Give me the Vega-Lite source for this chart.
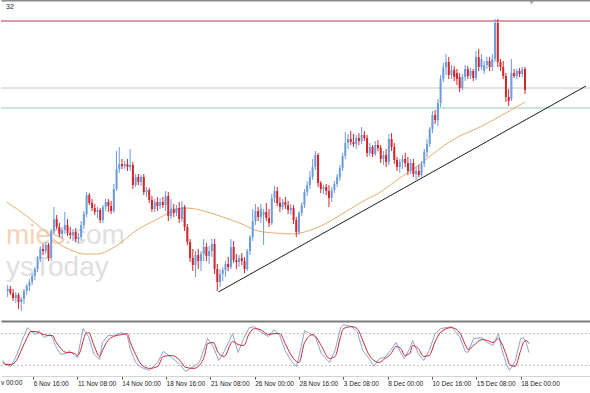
{
  "$schema": "https://vega.github.io/schema/vega-lite/v6.json",
  "background": "white",
  "padding": 0,
  "spacing": 2,
  "bounds": "flush",
  "config": {"view": {"stroke": null}, "axis": {"grid": false}},
  "datasets": {
    "candles": [
      {"i":0,"o":108,"h":114,"l":102,"c":110},{"i":1,"o":110,"h":113,"l":104,"c":106},{"i":2,"o":106,"h":110,"l":98,"c":101},{"i":3,"o":101,"h":107,"l":96,"c":104},{"i":4,"o":104,"h":106,"l":90,"c":97},
      {"i":5,"o":97,"h":102,"l":88,"c":100},{"i":6,"o":100,"h":110,"l":95,"c":108},{"i":7,"o":108,"h":115,"l":104,"c":113},{"i":8,"o":113,"h":120,"l":108,"c":117},{"i":9,"o":117,"h":126,"l":114,"c":123},
      {"i":10,"o":123,"h":132,"l":119,"c":130},{"i":11,"o":130,"h":143,"l":127,"c":140},{"i":12,"o":140,"h":153,"l":137,"c":150},{"i":13,"o":150,"h":155,"l":144,"c":148},{"i":14,"o":148,"h":157,"l":145,"c":154},
      {"i":15,"o":154,"h":156,"l":138,"c":141},{"i":16,"o":141,"h":170,"l":138,"c":168},{"i":17,"o":168,"h":192,"l":165,"c":180},{"i":18,"o":180,"h":184,"l":170,"c":172},{"i":19,"o":172,"h":176,"l":162,"c":165},
      {"i":20,"o":165,"h":172,"l":160,"c":169},{"i":21,"o":169,"h":187,"l":165,"c":174},{"i":22,"o":174,"h":180,"l":163,"c":166},{"i":23,"o":166,"h":172,"l":160,"c":164},{"i":24,"o":164,"h":170,"l":158,"c":167},
      {"i":25,"o":167,"h":171,"l":157,"c":160},{"i":26,"o":160,"h":166,"l":156,"c":162},{"i":27,"o":162,"h":178,"l":158,"c":174},{"i":28,"o":174,"h":188,"l":170,"c":185},{"i":29,"o":185,"h":207,"l":182,"c":204},
      {"i":30,"o":204,"h":206,"l":194,"c":196},{"i":31,"o":196,"h":200,"l":188,"c":191},{"i":32,"o":191,"h":195,"l":184,"c":187},{"i":33,"o":187,"h":192,"l":181,"c":189},{"i":34,"o":189,"h":191,"l":176,"c":179},
      {"i":35,"o":179,"h":194,"l":176,"c":192},{"i":36,"o":192,"h":200,"l":188,"c":197},{"i":37,"o":197,"h":200,"l":187,"c":193},{"i":38,"o":193,"h":198,"l":185,"c":188},{"i":39,"o":188,"h":215,"l":186,"c":210},
      {"i":40,"o":210,"h":248,"l":208,"c":230},{"i":41,"o":230,"h":252,"l":226,"c":235},{"i":42,"o":235,"h":240,"l":230,"c":233},{"i":43,"o":233,"h":238,"l":230,"c":235},{"i":44,"o":235,"h":240,"l":228,"c":232},
      {"i":45,"o":232,"h":250,"l":228,"c":234},{"i":46,"o":234,"h":237,"l":210,"c":214},{"i":47,"o":214,"h":225,"l":212,"c":222},{"i":48,"o":222,"h":225,"l":214,"c":217},{"i":49,"o":217,"h":224,"l":213,"c":222},
      {"i":50,"o":222,"h":225,"l":204,"c":207},{"i":51,"o":207,"h":212,"l":202,"c":209},{"i":52,"o":209,"h":211,"l":196,"c":199},{"i":53,"o":199,"h":203,"l":187,"c":190},{"i":54,"o":190,"h":200,"l":187,"c":197},
      {"i":55,"o":197,"h":202,"l":188,"c":193},{"i":56,"o":193,"h":201,"l":190,"c":197},{"i":57,"o":197,"h":202,"l":191,"c":194},{"i":58,"o":194,"h":208,"l":188,"c":203},{"i":59,"o":203,"h":207,"l":178,"c":183},
      {"i":60,"o":183,"h":200,"l":180,"c":190},{"i":61,"o":190,"h":195,"l":182,"c":186},{"i":62,"o":186,"h":194,"l":183,"c":191},{"i":63,"o":191,"h":197,"l":176,"c":180},{"i":64,"o":180,"h":198,"l":177,"c":192},
      {"i":65,"o":192,"h":194,"l":168,"c":172},{"i":66,"o":172,"h":175,"l":154,"c":157},{"i":67,"o":157,"h":160,"l":137,"c":141},{"i":68,"o":141,"h":150,"l":128,"c":134},{"i":69,"o":134,"h":148,"l":122,"c":144},
      {"i":70,"o":144,"h":150,"l":130,"c":138},{"i":71,"o":138,"h":148,"l":128,"c":145},{"i":72,"o":145,"h":160,"l":138,"c":152},{"i":73,"o":152,"h":156,"l":138,"c":143},{"i":74,"o":143,"h":153,"l":135,"c":148},
      {"i":75,"o":148,"h":160,"l":142,"c":155},{"i":76,"o":155,"h":160,"l":125,"c":130},{"i":77,"o":130,"h":135,"l":108,"c":117},{"i":78,"o":117,"h":130,"l":112,"c":125},{"i":79,"o":125,"h":132,"l":118,"c":129},
      {"i":80,"o":129,"h":138,"l":122,"c":135},{"i":81,"o":135,"h":142,"l":128,"c":132},{"i":82,"o":132,"h":160,"l":130,"c":152},{"i":83,"o":152,"h":158,"l":136,"c":139},{"i":84,"o":139,"h":145,"l":130,"c":137},
      {"i":85,"o":137,"h":144,"l":132,"c":141},{"i":86,"o":141,"h":146,"l":134,"c":138},{"i":87,"o":138,"h":142,"l":126,"c":130},{"i":88,"o":130,"h":150,"l":128,"c":148},{"i":89,"o":148,"h":164,"l":144,"c":162},
      {"i":90,"o":162,"h":190,"l":158,"c":178},{"i":91,"o":178,"h":195,"l":174,"c":188},{"i":92,"o":188,"h":192,"l":178,"c":182},{"i":93,"o":182,"h":195,"l":176,"c":190},{"i":94,"o":184,"h":190,"l":154,"c":187},
      {"i":95,"o":187,"h":196,"l":178,"c":181},{"i":96,"o":181,"h":190,"l":172,"c":176},{"i":97,"o":176,"h":205,"l":174,"c":201},{"i":98,"o":201,"h":213,"l":196,"c":208},{"i":99,"o":208,"h":212,"l":193,"c":196},
      {"i":100,"o":196,"h":202,"l":187,"c":192},{"i":101,"o":192,"h":200,"l":189,"c":197},{"i":102,"o":197,"h":202,"l":190,"c":194},{"i":103,"o":194,"h":198,"l":185,"c":189},{"i":104,"o":189,"h":195,"l":184,"c":191},
      {"i":105,"o":191,"h":194,"l":175,"c":179},{"i":106,"o":179,"h":182,"l":162,"c":167},{"i":107,"o":167,"h":188,"l":164,"c":186},{"i":108,"o":186,"h":197,"l":183,"c":194},{"i":109,"o":194,"h":210,"l":191,"c":207},
      {"i":110,"o":207,"h":218,"l":203,"c":214},{"i":111,"o":214,"h":228,"l":210,"c":222},{"i":112,"o":222,"h":240,"l":219,"c":232},{"i":113,"o":232,"h":248,"l":229,"c":244},{"i":114,"o":244,"h":246,"l":212,"c":216},
      {"i":115,"o":216,"h":218,"l":206,"c":210},{"i":116,"o":210,"h":214,"l":205,"c":212},{"i":117,"o":212,"h":215,"l":204,"c":208},{"i":118,"o":208,"h":214,"l":192,"c":201},{"i":119,"o":201,"h":212,"l":197,"c":209},
      {"i":120,"o":209,"h":218,"l":206,"c":215},{"i":121,"o":215,"h":225,"l":212,"c":222},{"i":122,"o":222,"h":234,"l":218,"c":231},{"i":123,"o":231,"h":246,"l":228,"c":243},{"i":124,"o":243,"h":267,"l":240,"c":256},
      {"i":125,"o":256,"h":265,"l":250,"c":260},{"i":126,"o":260,"h":268,"l":254,"c":257},{"i":127,"o":257,"h":265,"l":252,"c":255},{"i":128,"o":255,"h":264,"l":250,"c":261},{"i":129,"o":261,"h":266,"l":254,"c":258},
      {"i":130,"o":258,"h":272,"l":255,"c":264},{"i":131,"o":264,"h":268,"l":258,"c":261},{"i":132,"o":261,"h":264,"l":242,"c":246},{"i":133,"o":246,"h":256,"l":243,"c":252},{"i":134,"o":252,"h":254,"l":242,"c":245},
      {"i":135,"o":245,"h":258,"l":243,"c":254},{"i":136,"o":254,"h":259,"l":248,"c":251},{"i":137,"o":251,"h":254,"l":236,"c":240},{"i":138,"o":240,"h":248,"l":234,"c":244},{"i":139,"o":244,"h":250,"l":232,"c":237},
      {"i":140,"o":237,"h":265,"l":234,"c":260},{"i":141,"o":260,"h":266,"l":248,"c":252},{"i":142,"o":252,"h":256,"l":235,"c":239},{"i":143,"o":239,"h":242,"l":228,"c":232},{"i":144,"o":232,"h":240,"l":226,"c":237},
      {"i":145,"o":237,"h":244,"l":230,"c":240},{"i":146,"o":240,"h":246,"l":232,"c":236},{"i":147,"o":236,"h":242,"l":224,"c":228},{"i":148,"o":228,"h":240,"l":225,"c":236},{"i":149,"o":236,"h":240,"l":222,"c":225},
      {"i":150,"o":225,"h":232,"l":218,"c":228},{"i":151,"o":228,"h":234,"l":222,"c":224},{"i":152,"o":224,"h":238,"l":222,"c":235},{"i":153,"o":235,"h":250,"l":232,"c":247},{"i":154,"o":247,"h":260,"l":242,"c":255},
      {"i":155,"o":255,"h":272,"l":252,"c":270},{"i":156,"o":270,"h":288,"l":266,"c":284},{"i":157,"o":284,"h":289,"l":275,"c":279},{"i":158,"o":279,"h":300,"l":273,"c":296},{"i":159,"o":296,"h":324,"l":292,"c":320},
      {"i":160,"o":320,"h":336,"l":317,"c":332},{"i":161,"o":332,"h":345,"l":324,"c":337},{"i":162,"o":337,"h":342,"l":320,"c":324},{"i":163,"o":324,"h":334,"l":320,"c":329},{"i":164,"o":329,"h":333,"l":318,"c":322},
      {"i":165,"o":326,"h":330,"l":314,"c":320},{"i":166,"o":322,"h":326,"l":307,"c":311},{"i":167,"o":311,"h":325,"l":309,"c":322},{"i":168,"o":322,"h":334,"l":318,"c":330},{"i":169,"o":330,"h":333,"l":320,"c":323},
      {"i":170,"o":323,"h":331,"l":320,"c":328},{"i":171,"o":328,"h":330,"l":318,"c":321},{"i":172,"o":321,"h":348,"l":319,"c":342},{"i":173,"o":342,"h":350,"l":328,"c":332},{"i":174,"o":332,"h":345,"l":329,"c":340},
      {"i":175,"o":328,"h":338,"l":325,"c":334},{"i":176,"o":334,"h":342,"l":330,"c":338},{"i":177,"o":338,"h":342,"l":328,"c":332},{"i":178,"o":332,"h":345,"l":328,"c":340},{"i":179,"o":340,"h":380,"l":337,"c":376},
      {"i":180,"o":376,"h":380,"l":332,"c":337},{"i":181,"o":337,"h":340,"l":328,"c":332},{"i":182,"o":332,"h":338,"l":320,"c":323},{"i":183,"o":323,"h":326,"l":297,"c":302},{"i":184,"o":302,"h":310,"l":293,"c":298},
      {"i":185,"o":300,"h":340,"l":298,"c":326},{"i":186,"o":326,"h":330,"l":321,"c":323},{"i":187,"o":323,"h":330,"l":320,"c":328},{"i":188,"o":328,"h":331,"l":322,"c":325},{"i":189,"o":325,"h":332,"l":322,"c":330},
      {"i":190,"o":330,"h":332,"l":305,"c":309}
    ],
    "ma": [
      {"i":-0.4,"p":197},{"i":7,"p":183},{"i":14,"p":167},{"i":19,"p":155},{"i":24,"p":148},{"i":28,"p":145},{"i":33,"p":145},{"i":38,"p":150},{"i":42,"p":157},{"i":45,"p":164},
      {"i":50,"p":173},{"i":55,"p":180},{"i":60,"p":187},{"i":65,"p":191},{"i":69,"p":190},{"i":72,"p":188},{"i":79,"p":182},{"i":86,"p":175},{"i":92,"p":168},{"i":98,"p":166},
      {"i":104,"p":165},{"i":109,"p":167},{"i":115,"p":173},{"i":121,"p":182},{"i":127,"p":192},{"i":132,"p":200},{"i":137,"p":207},{"i":141,"p":215},{"i":144,"p":221},{"i":151,"p":234},
      {"i":158,"p":249},{"i":166,"p":263},{"i":172,"p":270},{"i":181,"p":283},{"i":190,"p":297}
    ],
    "trend": [{"i":77.4,"p":107},{"i":212.4,"p":313}],
    "levels": [{"level":378,"kind":"r"},{"level":311,"kind":"g"},{"level":291,"kind":"t"}],
    "notes": [
      {"i":-0.6,"p":155,"t":"mies","kind":"worange"},
      {"i":20.74,"p":155,"t":".com","kind":"wgray"},
      {"i":-0.6,"p":123,"t":"ysToday","kind":"wgray"}
    ],
    "corner": [{"i":-0.6,"p":392,"t":"32"}],
    "marker": [{"i":192.4,"p":396.5}],
    "stoch": [
      {"i":0,"k":29.4,"d":25.6},{"i":1,"k":21.9,"d":21.9},{"i":3,"k":18.1,"d":21.9},{"i":5,"k":38.8,"d":29.4},{"i":7,"k":66.9,"d":51.9},{"i":9,"k":91.3,"d":74.4},
      {"i":10,"k":85.6,"d":83.8},{"i":12,"k":78.1,"d":83.8},{"i":13,"k":85.6,"d":81.9},{"i":15,"k":72.5,"d":78.1},{"i":17,"k":78.1,"d":76.3},{"i":18,"k":72.5,"d":76.3},
      {"i":19,"k":57.5,"d":66.9},{"i":21,"k":40.6,"d":51.9},{"i":23,"k":42.5,"d":44.4},{"i":24,"k":48.1,"d":44.4},{"i":26,"k":38.8,"d":42.5},{"i":27,"k":35,"d":38.8},
      {"i":28,"k":61.3,"d":46.3},{"i":29,"k":89.4,"d":65},{"i":30,"k":81.9,"d":80},{"i":31,"k":74.4,"d":81.9},{"i":33,"k":40.6,"d":57.5},{"i":35,"k":31.3,"d":36.9},
      {"i":36,"k":63.1,"d":48.1},{"i":38,"k":76.3,"d":66.9},{"i":40,"k":76.3,"d":74.4},{"i":43,"k":81.9,"d":78.1},{"i":45,"k":76.3,"d":80},{"i":46,"k":51.9,"d":65},
      {"i":48,"k":25.6,"d":40.6},{"i":50,"k":16.3,"d":21.9},{"i":53,"k":10.6,"d":14.4},{"i":56,"k":25.6,"d":18.1},{"i":58,"k":46.3,"d":36.9},{"i":61,"k":35,"d":38.8},
      {"i":64,"k":21.9,"d":29.4},{"i":66,"k":8.8,"d":16.3},{"i":69,"k":18.1,"d":14.4},{"i":71,"k":25.6,"d":20},{"i":73,"k":55.6,"d":40.6},{"i":74,"k":70.6,"d":61.3},
      {"i":76,"k":55.6,"d":63.1},{"i":78,"k":29.4,"d":42.5},{"i":80,"k":46.3,"d":36.9},{"i":83,"k":80,"d":65},{"i":85,"k":44.4,"d":59.4},{"i":87,"k":70.6,"d":57.5},
      {"i":89,"k":91.3,"d":80},{"i":91,"k":93.1,"d":89.4},{"i":93,"k":83.8,"d":87.5},{"i":96,"k":74.4,"d":78.1},{"i":98,"k":87.5,"d":80},{"i":100,"k":76.3,"d":80},
      {"i":102,"k":48.1,"d":61.3},{"i":104,"k":29.4,"d":40.6},{"i":106,"k":18.1,"d":27.5},{"i":107,"k":36.9,"d":25.6},{"i":109,"k":85.6,"d":63.1},{"i":112,"k":76.3,"d":78.1},
      {"i":113,"k":72.5,"d":74.4},{"i":115,"k":42.5,"d":57.5},{"i":118,"k":25.6,"d":33.1},{"i":120,"k":48.1,"d":36.9},{"i":122,"k":91.3,"d":74.4},{"i":123,"k":96.9,"d":89.4},
      {"i":126,"k":93.1,"d":93.1},{"i":128,"k":83.8,"d":89.4},{"i":130,"k":48.1,"d":66.9},{"i":132,"k":35,"d":42.5},{"i":134,"k":18.1,"d":29.4},{"i":136,"k":33.1,"d":25.6},
      {"i":138,"k":35,"d":33.1},{"i":140,"k":48.1,"d":40.6},{"i":142,"k":63.1,"d":55.6},{"i":144,"k":40.6,"d":50},{"i":145,"k":33.1,"d":38.8},{"i":147,"k":51.9,"d":42.5},
      {"i":148,"k":66.9,"d":57.5},{"i":150,"k":42.5,"d":51.9},{"i":152,"k":29.4,"d":36.9},{"i":154,"k":48.1,"d":38.8},{"i":156,"k":78.1,"d":63.1},{"i":158,"k":89.4,"d":81.9},
      {"i":162,"k":93.1,"d":91.3},{"i":165,"k":74.4,"d":81.9},{"i":167,"k":46.3,"d":59.4},{"i":168,"k":44.4,"d":50},{"i":170,"k":70.6,"d":57.5},{"i":173,"k":72.5,"d":68.8},
      {"i":175,"k":63.1,"d":66.9},{"i":177,"k":57.5,"d":63.1},{"i":179,"k":80,"d":70.6},{"i":180,"k":53.8,"d":63.1},{"i":182,"k":20,"d":36.9},{"i":183,"k":10.6,"d":21.9},
      {"i":185,"k":27.5,"d":18.1},{"i":187,"k":70.6,"d":48.1},{"i":188,"k":72.5,"d":63.1},{"i":189,"k":63.1,"d":66.9},{"i":190,"k":44.4,"d":61.3}
    ],
    "slevels": [{"v":80},{"v":20}],
    "cutlabel": [{"i":-0.6,"v":-7.5,"t":"v 00:00"}]
  },
  "vconcat": [
    {
      "width": 590,
      "height": 321,
      "resolve": {"axis": {"x": "independent"}, "scale": {"color": "independent"}},
      "layer": [
        {
          "data": {"name": "notes"},
          "mark": {"type": "text", "align": "left", "baseline": "alphabetic", "font": "Liberation Sans", "fontSize": 28},
          "encoding": {
            "x": {"field": "i", "type": "quantitative", "scale": {"domain": [-0.6, 212.4], "nice": false, "zero": false}, "axis": null},
            "y": {"field": "p", "type": "quantitative", "scale": {"domain": [78, 399], "nice": false, "zero": false}, "axis": null},
            "text": {"field": "t"},
            "color": {"field": "kind", "type": "nominal", "scale": {"domain": ["wgray", "worange"], "range": ["#e0e0e0", "#f7d4b8"]}, "legend": null}
          }
        },
        {
          "data": {"name": "levels"},
          "mark": {"type": "rule", "strokeWidth": 1},
          "encoding": {
            "y": {"field": "level", "type": "quantitative", "scale": {"domain": [78, 399], "nice": false, "zero": false}, "axis": null},
            "color": {"field": "kind", "type": "nominal", "scale": {"domain": ["r", "g", "t"], "range": ["#b23a4a", "#c6c6c6", "#93cfb8"]}, "legend": null}
          }
        },
        {
          "data": {"name": "ma"},
          "mark": {"type": "line", "color": "#e6ac6c", "strokeWidth": 1, "interpolate": "monotone"},
          "encoding": {
            "x": {"field": "i", "type": "quantitative", "scale": {"domain": [-0.6, 212.4], "nice": false, "zero": false}, "axis": null},
            "y": {"field": "p", "type": "quantitative", "scale": {"domain": [78, 399], "nice": false, "zero": false}, "axis": null}
          }
        },
        {
          "data": {"name": "trend"},
          "mark": {"type": "line", "color": "#1e1e1e", "strokeWidth": 1},
          "encoding": {
            "x": {"field": "i", "type": "quantitative", "scale": {"domain": [-0.6, 212.4], "nice": false, "zero": false}, "axis": null},
            "y": {"field": "p", "type": "quantitative", "scale": {"domain": [78, 399], "nice": false, "zero": false}, "axis": null}
          }
        },
        {
          "data": {"name": "candles"},
          "mark": {"type": "rule", "strokeWidth": 1},
          "encoding": {
            "x": {"field": "i", "type": "quantitative", "scale": {"domain": [-0.6, 212.4], "nice": false, "zero": false},
                  "axis": {"orient": "bottom", "title": null, "labels": false, "ticks": false, "domain": true, "domainColor": "#7a7a7a", "domainWidth": 2, "grid": false}},
            "y": {"field": "l", "type": "quantitative", "scale": {"domain": [78, 399], "nice": false, "zero": false}, "axis": null},
            "y2": {"field": "h"},
            "color": {"condition": {"test": "datum.c >= datum.o", "value": "#6b9be0"}, "value": "#d3262b"}
          }
        },
        {
          "data": {"name": "candles"},
          "mark": {"type": "bar", "size": 2},
          "encoding": {
            "x": {"field": "i", "type": "quantitative", "scale": {"domain": [-0.6, 212.4], "nice": false, "zero": false},
                  "axis": {"orient": "top", "title": null, "labels": false, "ticks": false, "domain": true, "domainColor": "#8a8a8a", "domainWidth": 2, "grid": false}},
            "y": {"field": "o", "type": "quantitative", "scale": {"domain": [78, 399], "nice": false, "zero": false}, "axis": null},
            "y2": {"field": "c"},
            "color": {"condition": {"test": "datum.c >= datum.o", "value": "#6b9be0"}, "value": "#d3262b"}
          }
        },
        {
          "data": {"name": "corner"},
          "mark": {"type": "text", "align": "left", "baseline": "middle", "font": "Liberation Sans", "fontSize": 7, "color": "#222"},
          "encoding": {
            "x": {"field": "i", "type": "quantitative", "scale": {"domain": [-0.6, 212.4], "nice": false, "zero": false}, "axis": null},
            "y": {"field": "p", "type": "quantitative", "scale": {"domain": [78, 399], "nice": false, "zero": false}, "axis": null},
            "text": {"field": "t"}
          }
        },
        {
          "data": {"name": "marker"},
          "mark": {"type": "point", "shape": "triangle-down", "size": 18, "filled": true, "color": "#9a9a9a", "opacity": 1},
          "encoding": {
            "x": {"field": "i", "type": "quantitative", "scale": {"domain": [-0.6, 212.4], "nice": false, "zero": false}, "axis": null},
            "y": {"field": "p", "type": "quantitative", "scale": {"domain": [78, 399], "nice": false, "zero": false}, "axis": null}
          }
        }
      ]
    },
    {
      "width": 590,
      "height": 53,
      "layer": [
        {
          "data": {"name": "slevels"},
          "mark": {"type": "rule", "color": "#c2c2c2", "strokeWidth": 1, "strokeDash": [2, 2]},
          "encoding": {
            "y": {"field": "v", "type": "quantitative", "scale": {"domain": [0, 100], "nice": false, "zero": false}, "axis": null}
          }
        },
        {
          "data": {"name": "stoch"},
          "mark": {"type": "line", "color": "#8fa3c9", "strokeWidth": 1},
          "encoding": {
            "x": {"field": "i", "type": "quantitative", "scale": {"domain": [-0.6, 212.4], "nice": false, "zero": false},
                  "axis": {"title": null, "values": [11, 27, 43, 59, 75, 91, 107, 123, 139, 155, 171, 187],
                           "labelExpr": "['6 Nov 16:00','11 Nov 08:00','14 Nov 00:00','18 Nov 16:00','21 Nov 08:00','26 Nov 00:00','28 Nov 16:00','3 Dec 08:00','8 Dec 00:00','10 Dec 16:00','15 Dec 08:00','18 Dec 00:00'][round((datum.value - 11) / 16)]",
                           "labelAlign": "left", "labelBaseline": "top", "labelFont": "Liberation Sans", "labelFontSize": 6.5, "labelColor": "#222",
                           "labelPadding": 1, "labelOverlap": false, "labelFlush": false, "labelBound": false,
                           "tickSize": 3, "tickColor": "#555", "domainColor": "#d4d4d4", "grid": false}},
            "y": {"field": "k", "type": "quantitative", "scale": {"domain": [0, 100], "nice": false, "zero": false}, "axis": null}
          }
        },
        {
          "data": {"name": "stoch"},
          "mark": {"type": "line", "color": "#c8283a", "strokeWidth": 1, "interpolate": "monotone"},
          "encoding": {
            "x": {"field": "i", "type": "quantitative", "scale": {"domain": [-0.6, 212.4], "nice": false, "zero": false},
                  "axis": {"title": null, "values": [11, 27, 43, 59, 75, 91, 107, 123, 139, 155, 171, 187],
                           "labelExpr": "['6 Nov 16:00','11 Nov 08:00','14 Nov 00:00','18 Nov 16:00','21 Nov 08:00','26 Nov 00:00','28 Nov 16:00','3 Dec 08:00','8 Dec 00:00','10 Dec 16:00','15 Dec 08:00','18 Dec 00:00'][round((datum.value - 11) / 16)]",
                           "labelAlign": "left", "labelBaseline": "top", "labelFont": "Liberation Sans", "labelFontSize": 6.5, "labelColor": "#222",
                           "labelPadding": 1, "labelOverlap": false, "labelFlush": false, "labelBound": false,
                           "tickSize": 3, "tickColor": "#555", "domainColor": "#d4d4d4", "grid": false}},
            "y": {"field": "d", "type": "quantitative", "scale": {"domain": [0, 100], "nice": false, "zero": false}, "axis": null}
          }
        },
        {
          "data": {"name": "cutlabel"},
          "mark": {"type": "text", "align": "left", "baseline": "top", "font": "Liberation Sans", "fontSize": 6.5, "color": "#222"},
          "encoding": {
            "x": {"field": "i", "type": "quantitative", "scale": {"domain": [-0.6, 212.4], "nice": false, "zero": false},
                  "axis": {"title": null, "values": [11, 27, 43, 59, 75, 91, 107, 123, 139, 155, 171, 187],
                           "labelExpr": "['6 Nov 16:00','11 Nov 08:00','14 Nov 00:00','18 Nov 16:00','21 Nov 08:00','26 Nov 00:00','28 Nov 16:00','3 Dec 08:00','8 Dec 00:00','10 Dec 16:00','15 Dec 08:00','18 Dec 00:00'][round((datum.value - 11) / 16)]",
                           "labelAlign": "left", "labelBaseline": "top", "labelFont": "Liberation Sans", "labelFontSize": 6.5, "labelColor": "#222",
                           "labelPadding": 1, "labelOverlap": false, "labelFlush": false, "labelBound": false,
                           "tickSize": 3, "tickColor": "#555", "domainColor": "#d4d4d4", "grid": false}},
            "y": {"field": "v", "type": "quantitative", "scale": {"domain": [0, 100], "nice": false, "zero": false}, "axis": null},
            "text": {"field": "t"}
          }
        }
      ]
    }
  ]
}
